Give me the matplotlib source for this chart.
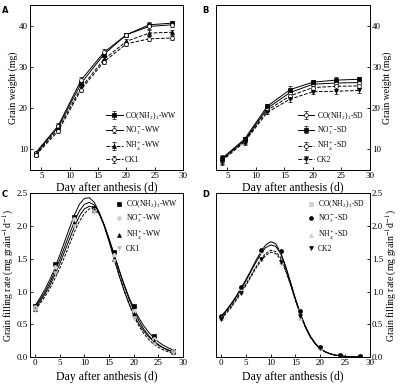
import matplotlib
matplotlib.use('Agg')
import numpy as np
import matplotlib.pyplot as plt

plt.rcParams['font.family'] = ['Liberation Serif', 'DejaVu Serif']
plt.rcParams['mathtext.fontset'] = 'stix'

# grain weight (panels A, B)
days_w = [4, 8, 12, 16, 20, 24, 28]
labels_ww = ['CO(NH$_2$)$_2$-WW', 'NO$_3^-$-WW', 'NH$_4^+$-WW', 'CK1']
weight_ww = [
    [9.0, 15.5, 26.0, 33.0, 37.8, 40.2, 40.6],
    [9.2, 15.8, 26.8, 33.5, 37.8, 39.8, 40.2],
    [8.8, 15.0, 25.0, 31.8, 36.2, 38.2, 38.4],
    [8.6, 14.5, 24.5, 31.2, 35.6, 36.8, 37.0],
]
err_ww = [
    [0.5, 0.6, 0.6, 0.7, 0.4, 0.6, 0.5],
    [0.5, 0.6, 0.7, 0.8, 0.4, 0.6, 0.5],
    [0.5, 0.5, 0.6, 0.7, 0.5, 0.7, 0.6],
    [0.5, 0.5, 0.6, 0.6, 0.5, 0.6, 0.6],
]
labels_sd = ['CO(NH$_2$)$_2$-SD', 'NO$_3^-$-SD', 'NH$_4^+$-SD', 'CK2']
weight_sd = [
    [7.6, 12.2, 20.0, 23.8, 25.8, 26.1, 26.2],
    [7.8, 12.5, 20.5, 24.5, 26.3, 26.8, 27.0],
    [7.4, 12.0, 19.5, 23.0, 25.0, 25.3, 25.4],
    [7.2, 11.8, 19.0, 22.2, 24.0, 24.1, 24.3],
]
err_sd = [
    [0.8, 0.6, 0.5, 0.8, 0.5, 0.6, 0.6],
    [0.8, 0.6, 0.5, 0.9, 0.5, 0.7, 0.6],
    [0.9, 0.6, 0.5, 0.8, 0.5, 0.6, 0.6],
    [0.9, 0.6, 0.5, 0.7, 0.5, 0.6, 0.6],
]

# grain filling rate (panels C, D): fitted curves read day by day
days_c = list(range(29))
curve_ww = [
    [0.78, 0.90, 1.03, 1.18, 1.35, 1.55, 1.76, 1.97, 2.17, 2.33, 2.42, 2.43, 2.36, 2.21, 2.00,
     1.76, 1.50, 1.25, 1.02, 0.82, 0.65, 0.51, 0.40, 0.31, 0.24, 0.18, 0.14, 0.10, 0.08],
    [0.76, 0.87, 0.99, 1.13, 1.30, 1.48, 1.68, 1.88, 2.07, 2.23, 2.33, 2.36, 2.32, 2.20, 2.02,
     1.80, 1.57, 1.34, 1.12, 0.92, 0.75, 0.60, 0.48, 0.38, 0.30, 0.23, 0.18, 0.14, 0.11],
    [0.74, 0.84, 0.96, 1.09, 1.25, 1.42, 1.61, 1.80, 1.99, 2.15, 2.26, 2.30, 2.28, 2.18, 2.01,
     1.80, 1.57, 1.33, 1.10, 0.89, 0.71, 0.56, 0.43, 0.33, 0.25, 0.19, 0.14, 0.11, 0.08],
    [0.72, 0.81, 0.92, 1.04, 1.19, 1.35, 1.53, 1.72, 1.91, 2.07, 2.19, 2.26, 2.27, 2.19, 2.02,
     1.79, 1.53, 1.27, 1.03, 0.82, 0.63, 0.48, 0.36, 0.27, 0.20, 0.15, 0.11, 0.08, 0.06],
]
curve_sd = [
    [0.62, 0.71, 0.81, 0.92, 1.05, 1.18, 1.32, 1.47, 1.60, 1.71, 1.76, 1.73, 1.60, 1.39, 1.14,
     0.88, 0.65, 0.46, 0.31, 0.20, 0.13, 0.08, 0.05, 0.03, 0.02, 0.01, 0.006, 0.004, 0.002],
    [0.61, 0.70, 0.80, 0.91, 1.03, 1.16, 1.30, 1.44, 1.57, 1.67, 1.71, 1.69, 1.58, 1.38, 1.14,
     0.89, 0.66, 0.47, 0.32, 0.21, 0.13, 0.08, 0.05, 0.03, 0.02, 0.01, 0.006, 0.004, 0.002],
    [0.60, 0.68, 0.77, 0.88, 0.99, 1.11, 1.24, 1.37, 1.49, 1.58, 1.63, 1.61, 1.52, 1.34, 1.11,
     0.87, 0.65, 0.46, 0.31, 0.20, 0.13, 0.08, 0.05, 0.03, 0.02, 0.01, 0.006, 0.004, 0.002],
    [0.58, 0.66, 0.75, 0.86, 0.97, 1.09, 1.22, 1.35, 1.46, 1.55, 1.60, 1.58, 1.49, 1.32, 1.10,
     0.86, 0.64, 0.45, 0.30, 0.20, 0.13, 0.08, 0.05, 0.03, 0.02, 0.01, 0.006, 0.004, 0.002],
]
days_r = [0, 4, 8, 12, 16, 20, 24, 28]
rate_ww = [
    [0.78, 1.42, 2.14, 2.27, 1.60, 0.78, 0.32, 0.10],
    [0.76, 1.38, 2.10, 2.25, 1.55, 0.70, 0.28, 0.09],
    [0.73, 1.32, 2.04, 2.24, 1.50, 0.65, 0.24, 0.08],
    [0.72, 1.28, 2.00, 2.22, 1.46, 0.60, 0.20, 0.06],
]
rate_sd = [
    [0.60, 1.05, 1.62, 1.62, 0.70, 0.15, 0.03, 0.01],
    [0.62, 1.07, 1.63, 1.62, 0.70, 0.16, 0.03, 0.01],
    [0.60, 1.00, 1.50, 1.45, 0.60, 0.14, 0.02, 0.005],
    [0.58, 0.98, 1.50, 1.45, 0.62, 0.14, 0.02, 0.005],
]

fig = plt.figure(figsize=(4.0, 3.84), dpi=100)
axA = fig.add_axes([0.075, 0.557, 0.383, 0.43])
axB = fig.add_axes([0.54, 0.557, 0.385, 0.43])
axC = fig.add_axes([0.075, 0.07, 0.383, 0.427])
axD = fig.add_axes([0.54, 0.07, 0.385, 0.427])

def style(ax, right=False):
    ax.tick_params(direction='in', labelsize=6.5, length=2.5, width=0.6, pad=1.5)
    for s in ax.spines.values():
        s.set_linewidth(0.7)
    if right:
        ax.yaxis.tick_right()
        ax.yaxis.set_label_position('right')
        ax.tick_params(axis='y', direction='in', left=False, right=True)

# weight styles: (marker, filled, linestyle)
sty_ww = [('s', True, '-'), ('o', False, '-'), ('^', True, '--'), ('o', False, '--')]
sty_sd = [('o', False, '-'), ('s', True, '-'), ('o', False, '--'), ('v', True, '--')]

for ax, data, errs, labs, sty, right in [
        (axA, weight_ww, err_ww, labels_ww, sty_ww, False),
        (axB, weight_sd, err_sd, labels_sd, sty_sd, True)]:
    for y, e, lab, (m, filled, ls) in zip(data, errs, labs, sty):
        ax.errorbar(days_w, y, yerr=e, color='black', lw=0.7, ls=ls,
                    marker=m, ms=2.8, mfc='black' if filled else 'white',
                    mec='black', mew=0.5, elinewidth=0.5, capsize=1.2,
                    capthick=0.5, label=lab)
    ax.set_xlim(3, 30)
    ax.set_ylim(5, 45)
    ax.set_xticks([5, 10, 15, 20, 25, 30])
    ax.set_yticks([10, 20, 30, 40])
    ax.set_xlabel('Day after anthesis (d)', fontsize=8.5, labelpad=1)
    ax.set_ylabel('Grain weight (mg)', fontsize=7, labelpad=1)
    style(ax, right)
    ax.legend(loc='lower right', fontsize=5.5, frameon=False, handlelength=2.2,
              handletextpad=0.3, labelspacing=0.35, borderaxespad=0.4)

# rate styles: (marker, face, edge)
msty_ww = [('s', 'black', 'black'), ('o', '#cfcfcf', '#cfcfcf'),
           ('^', 'black', 'black'), ('v', '#bdbdbd', '#bdbdbd')]
msty_sd = [('s', '#cfcfcf', '#cfcfcf'), ('o', 'black', 'black'),
           ('^', '#cfcfcf', '#cfcfcf'), ('v', 'black', 'black')]
lstyles_ww = ['-', '-', '-', '--']
lstyles_sd = ['-', '-', '--', '--']

for ax, curves, rates, labs, msty, lst, right in [
        (axC, curve_ww, rate_ww, labels_ww, msty_ww, lstyles_ww, False),
        (axD, curve_sd, rate_sd, labels_sd, msty_sd, lstyles_sd, True)]:
    for c, ls in zip(curves, lst):
        ax.plot(days_c, c, color='black', lw=0.7, ls=ls, dashes=(3, 1.5) if ls == '--' else (None, None))
    for r, lab, (m, fc, ec) in zip(rates, labs, msty):
        ax.plot(days_r, r, ls='none', marker=m, ms=2.8, mfc=fc, mec=ec,
                mew=0.5, label=lab)
    ax.set_xlim(-1, 30)
    ax.set_ylim(0, 2.5)
    ax.set_xticks([0, 5, 10, 15, 20, 25, 30])
    ax.set_yticks([0.0, 0.5, 1.0, 1.5, 2.0, 2.5])
    ax.yaxis.set_major_formatter(matplotlib.ticker.FormatStrFormatter('%.1f'))
    ax.set_xlabel('Day after anthesis (d)', fontsize=8.5, labelpad=3)
    ax.set_ylabel('Grain filling rate (mg grain$^{-1}$d$^{-1}$)', fontsize=7, labelpad=0.5)
    style(ax, right)
    ax.legend(loc='upper right', fontsize=5.5, frameon=False, handlelength=1.2,
              handletextpad=0.3, labelspacing=0.35, borderaxespad=0.3)

for lab, x, y in [('A', 0.005, 0.985), ('B', 0.505, 0.985),
                  ('C', 0.005, 0.505), ('D', 0.505, 0.505)]:
    fig.text(x, y, lab, fontsize=6, fontweight='bold', family='DejaVu Sans',
             va='top', ha='left')

fig.savefig('out.png', dpi=100)
